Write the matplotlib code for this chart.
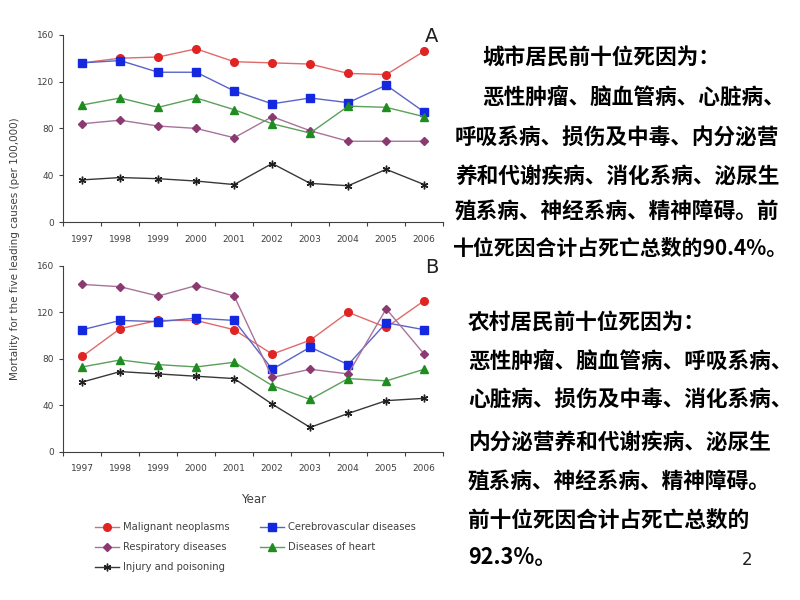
import matplotlib
matplotlib.use("Agg")
import matplotlib.pyplot as plt

# 数据 (per 100,000)
years = [1997, 1998, 1999, 2000, 2001, 2002, 2003, 2004, 2005, 2006]

# A: urban
a_malignant = [136, 140, 141, 148, 137, 136, 135, 127, 126, 146]
a_cerebro = [136, 138, 128, 128, 112, 101, 106, 102, 117, 94]
a_respiratory = [84, 87, 82, 80, 72, 90, 78, 69, 69, 69]
a_heart = [100, 106, 98, 106, 96, 84, 76, 99, 98, 90]
a_injury = [36, 38, 37, 35, 32, 50, 33, 31, 45, 32]

# B: rural
b_malignant = [82, 106, 113, 113, 105, 84, 96, 120, 107, 130]
b_cerebro = [105, 113, 112, 115, 113, 71, 90, 75, 111, 105]
b_respiratory = [144, 142, 134, 143, 134, 64, 71, 67, 123, 84]
b_heart = [73, 79, 75, 73, 77, 57, 45, 63, 61, 71]
b_injury = [60, 69, 67, 65, 63, 41, 21, 33, 44, 46]

labels = ["Malignant neoplasms", "Cerebrovascular diseases", "Respiratory diseases",
          "Diseases of heart", "Injury and poisoning"]

text_a = ["城市居民前十位死因为：",
          "恶性肿瘤、脑血管病、心脏病、",
          "呼吸系病、损伤及中毒、内分泌营",
          "养和代谢疾病、消化系病、泌尿生",
          "殖系病、神经系病、精神障碍。前",
          "十位死因合计占死亡总数的90.4%。"]
text_b = ["农村居民前十位死因为：",
          "恶性肿瘤、脑血管病、呼吸系病、",
          "心脏病、损伤及中毒、消化系病、",
          "内分泌营养和代谢疾病、泌尿生",
          "殖系病、神经系病、精神障碍。",
          "前十位死因合计占死亡总数的",
          "92.3%。"]

# 样式: (line color, marker color, marker, size)
styles = [
    ("#e06a6a", "#e02424", "o", 5.5),
    ("#5a64c8", "#1428e0", "s", 6),
    ("#a8739a", "#8a3a70", "D", 4.5),
    ("#5aa05a", "#1e8c1e", "^", 6),
    ("#383838", "#202020", (6, 2, 0), 5.5),
]

gray = "#404040"

fig = plt.figure(figsize=(8, 6), dpi=100)
fig.patch.set_facecolor("white")


def draw_panel(ax, series):
    handles = []
    for vals, lab, (lc, mc, mk, ms) in zip(series, labels, styles):
        h, = ax.plot(years, vals, color=lc, lw=1.0, marker=mk, markersize=ms,
                     markerfacecolor=mc, markeredgecolor=mc, markeredgewidth=1.0,
                     label=lab)
        handles.append(h)
    ax.set_xlim(1996.5, 2006.5)
    ax.set_ylim(0, 160)
    ax.set_yticks([0, 40, 80, 120, 160])
    ax.set_xticks(years)
    ax.set_xticks([y + 0.5 for y in [1996] + years], minor=True)
    ax.tick_params(axis="x", which="major", length=0, labelsize=6.5,
                   colors=gray, pad=9)
    ax.tick_params(axis="x", which="minor", length=3, direction="out",
                   color=gray, width=0.8)
    ax.tick_params(axis="y", length=3, direction="out", labelsize=6.5,
                   colors=gray, width=0.8)
    for s in ["top", "right"]:
        ax.spines[s].set_visible(False)
    for s in ["left", "bottom"]:
        ax.spines[s].set_color(gray)
        ax.spines[s].set_linewidth(0.8)
    return handles


ax1 = fig.add_axes([0.079, 0.63, 0.475, 0.312])
draw_panel(ax1, [a_malignant, a_cerebro, a_respiratory, a_heart, a_injury])

ax2 = fig.add_axes([0.079, 0.247, 0.475, 0.31])
hs = draw_panel(ax2, [b_malignant, b_cerebro, b_respiratory, b_heart, b_injury])
ax2.set_xlabel("Year", fontsize=8.5, color=gray, labelpad=14)

fig.text(432 / 800, 1 - 37 / 600, "A", ha="center", va="center",
         fontsize=14, color="#202020")
fig.text(432 / 800, 1 - 267 / 600, "B", ha="center", va="center",
         fontsize=14, color="#202020")

fig.text(0.019, 0.585, "Mortality for the five leading causes (per 100,000)",
         rotation=90, ha="center", va="center", fontsize=7.5, color=gray)

# 图例
order = [0, 2, 4, 1, 3]
fig.legend([hs[i] for i in order], [labels[i] for i in order],
           loc="upper left", bbox_to_anchor=(0.114, 0.136), ncol=2,
           frameon=False, fontsize=7.2, labelcolor=gray, handlelength=2.4,
           columnspacing=3.0, labelspacing=1.0, handletextpad=0.4,
           borderaxespad=0)

# 右侧文字
cjk = ["Noto Sans CJK SC", "DejaVu Sans"]
fs = 15.6
ys_a = [58, 98, 137, 176, 212, 248]
xs_a = [482, 482, 455, 455, 455, 453]
fs_a = [fs, fs, fs, fs, fs, 15.0]
for t, x, y, f in zip(text_a, xs_a, ys_a, fs_a):
    fig.text(x / 800, 1 - y / 600, t, ha="left", va="center", fontsize=f,
             family=cjk, weight="bold", color="black")

ys_b = [323, 362, 400, 442, 482, 520, 558]
for t, y in zip(text_b, ys_b):
    fig.text(468 / 800, 1 - y / 600, t, ha="left", va="center", fontsize=fs,
             family=cjk, weight="bold", color="black")

fig.text(747 / 800, 1 - 560 / 600, "2", ha="center", va="center",
         fontsize=12, color="#202020")

fig.savefig("out.png", dpi=100)
